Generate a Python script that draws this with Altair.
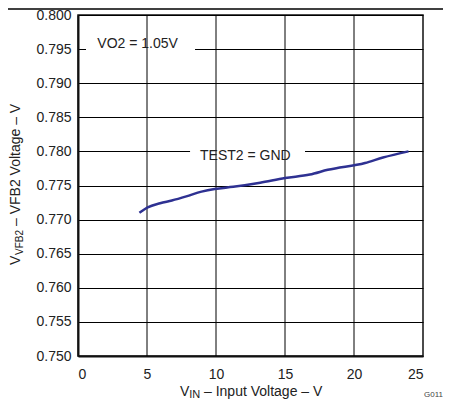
import altair as alt
import pandas as pd

# data
vin = [4.45, 5.05, 5.95, 6.8, 7.85, 8.95, 9.9, 11.25, 13.2, 15.0, 16.8, 18.1, 20.8, 22.1, 23.95]
vfb = [0.7710, 0.7718, 0.7724, 0.7728, 0.7734, 0.7741, 0.7745, 0.7748, 0.7754, 0.7761, 0.7766, 0.7773, 0.7783, 0.7791, 0.7800]
x_ticks = [0, 5, 10, 15, 20, 25]
y_ticks = [0.750, 0.755, 0.760, 0.765, 0.770, 0.775, 0.780, 0.785, 0.790, 0.795, 0.800]

# annotations
ann_text = ["VO2 = 1.05V", "TEST2 = GND"]
ann_x = [1.40, 8.84]
ann_y = [0.79518, 0.77876]
box_x1 = [0.58, 8.12]
box_x2 = [8.48, 16.45]
box_y = [0.795, 0.780]

FONT = "Liberation Sans"
W, H = 345, 341

xs = alt.Scale(domain=[0, 25], nice=False)
ys = alt.Scale(domain=[0.75, 0.80], nice=False, zero=False)

x_axis = alt.Axis(values=x_ticks, grid=False, title=None, tickSize=0,
                  labelPadding=22, labelBaseline="alphabetic",
                  labelFont=FONT, labelFontSize=14, labelColor="#222",
                  domainColor="#111", domainWidth=2, labelOverlap=False)
y_axis = alt.Axis(values=y_ticks, format=".3f", grid=True, gridColor="#000",
                  gridWidth=1, gridOpacity=1, title=None, tickSize=0,
                  labelPadding=7, labelFont=FONT, labelFontSize=14, labelOverlap=False,
                  labelColor="#222", domainColor="#111", domainWidth=2)


def X(f):
    return alt.X(f, scale=xs, axis=x_axis, title=None)


def Y(f):
    return alt.Y(f, scale=ys, axis=y_axis, title=None)


df = pd.DataFrame({"vin": vin, "vfb": vfb})

band_lo = [b - 0.0004 for b in box_y]
band_hi = [b + 0.0004 for b in box_y]
boxes = alt.Chart(pd.DataFrame({"x1": box_x1, "x2": box_x2, "lo": band_lo, "hi": band_hi})).mark_rect(
    color="white").encode(x=X("x1:Q"), x2="x2:Q", y=Y("lo:Q"), y2="hi:Q")

vgrid = alt.Chart(pd.DataFrame({"g": x_ticks[1:-1]})).mark_rule(color="#000", strokeWidth=1).encode(
    x=X("g:Q"))

line = alt.Chart(df).mark_line(color="#2E3192", strokeWidth=2.5, interpolate="monotone").encode(
    x=X("vin:Q"), y=Y("vfb:Q"))

labels = alt.Chart(pd.DataFrame({"t": ann_text, "x": ann_x, "y": ann_y})).mark_text(
    align="left", baseline="alphabetic", font=FONT, fontSize=14, color="#222").encode(
    x=X("x:Q"), y=Y("y:Q"), text="t:N")

one = alt.Data(values=[{"a": 1}])


def txt(s, x, y, size=14, angle=0, dx=0, dy=0, color="#222", align="left"):
    kw = dict(align=align, baseline="alphabetic", font=FONT, fontSize=size, color=color, dx=dx, dy=dy)
    if angle:
        kw["angle"] = angle
    return alt.Chart(one).mark_text(**kw).encode(
        x=alt.value(x), y=alt.value(y), text=alt.value(s))


xt = [txt("V", 102, 380.5), txt("IN", 111.3, 383, size=11),
      txt("\u2013 Input Voltage \u2013 V", 126, 380.5)]
yt = [txt("V", -58, 250, angle=270),
      txt("VFB2", -58, 250, size=10, angle=270, dx=10, dy=2.5),
      txt("\u2013 VFB2 Voltage \u2013 V", -58, 250, angle=270, dx=39)]
g011 = txt("G011", 346, 382, size=8, color="#444")

topline = alt.Chart(one).mark_rule(color="#000", strokeWidth=1.5).encode(
    x=alt.value(-70), x2=alt.value(373), y=alt.value(-6))

chart = alt.layer(boxes, vgrid, line, labels, topline, g011, *xt, *yt).properties(
    width=W, height=H,
    autosize=alt.AutoSizeParams(type="none"),
    padding={"left": 70, "top": 7, "right": 20, "bottom": 43},
).configure_view(stroke="#111", strokeWidth=1.5)

chart.save("out.html", embed_options={"renderer": "svg", "actions": False})
